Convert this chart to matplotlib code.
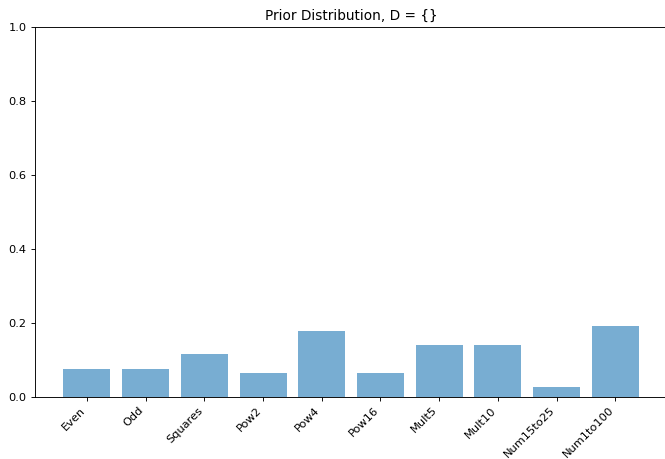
import numpy as np
import matplotlib
matplotlib.use("Agg")
import matplotlib.pyplot as plt

hypotheses = ["Even", "Odd", "Squares", "Pow2", "Pow4", "Pow16",
              "Mult5", "Mult10", "Num15to25", "Num1to100"]
prior = [0.077, 0.077, 0.115, 0.064, 0.179, 0.064, 0.141, 0.141, 0.026, 0.192]

# rendered at a lower dpi so the text comes out as small as in the original
dpi = 82
fig = plt.figure(figsize=(665 / dpi, 459 / dpi), dpi=dpi)
ax = fig.add_axes([0.052, 0.135, 0.952, 0.806])

x_pos = np.arange(len(hypotheses))
ax.bar(x_pos, prior, align="center", alpha=0.6)
ax.set_xticks(x_pos)
ax.set_xticklabels(hypotheses, rotation=45, ha="right")
ax.set_ylim(0, 1.0)
ax.set_title("Prior Distribution, D = {}")
# the original is cropped just before the right edge of the axes
ax.spines["right"].set_visible(False)

fig.savefig("out.png", dpi=dpi)
